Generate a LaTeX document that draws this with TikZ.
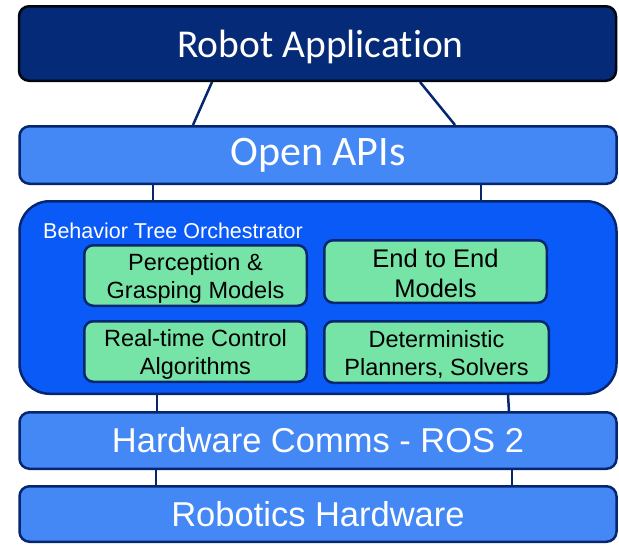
\documentclass[tikz,border=0pt]{standalone}
\usepackage{fontspec}
\setmainfont{Liberation Sans}
\newfontfamily\calib[Ligatures=NoCommon]{Carlito}
\definecolor{navy}{RGB}{6,38,112}
\definecolor{appfill}{RGB}{4,42,120}
\definecolor{layerfill}{RGB}{68,136,245}
\definecolor{btfill}{RGB}{10,90,248}
\definecolor{greenfill}{RGB}{118,228,166}
\newcommand{\lowr}[2]{\raisebox{-#1}[\height][\depth]{#2}}
\begin{document}
\begin{tikzpicture}[x=1pt,y=-1pt,
  layer/.style={draw=navy, line width=2.5pt, fill=layerfill, rounded corners=10pt,
    inner sep=0pt, text=white, minimum width=597pt},
  gbox/.style={draw=navy, line width=2.5pt, fill=greenfill, rounded corners=9pt,
    inner sep=0pt, text=black, align=center},
  conn/.style={draw=navy, line width=2.5pt}]
\useasboundingbox (0,0) rectangle (619,544);
\node[layer, fill=appfill, draw=black!85!navy, minimum height=74.5pt,
  font=\calib\fontsize{39.5}{42}\selectfont] (ra) at (317.5,43.5) {\lowr{3pt}{\hspace*{6pt}Robot Application}};
\node[layer, minimum height=57.5pt, font=\calib\fontsize{42}{46}\selectfont] (oa) at (318,155)
  {Open APIs};
\node[layer, fill=btfill, rounded corners=30pt, minimum height=192.5pt] (bt) at (318,297.5) {};
\node[layer, minimum height=56.5pt, font=\fontsize{34.5}{38}\selectfont] (hw) at (318,440.5)
  {Hardware Comms - ROS 2};
\node[layer, minimum height=55.5pt, font=\fontsize{34.5}{38}\selectfont] (rh) at (318,514)
  {Robotics Hardware};
\node[anchor=base west, inner sep=0pt, text=white, font=\fontsize{21.5}{24}\selectfont] (btl) at (43,238)
  {Behavior Tree Orchestrator};
\node[gbox, minimum width=222.5pt, minimum height=60.5pt, font=\fontsize{23.5}{28}\selectfont] (g1) at (195.5,275.5)
  {\lowr{2.5pt}{Perception \&}\\ \lowr{2.5pt}{Grasping Models}};
\node[gbox, minimum width=222.5pt, minimum height=62.5pt, font=\fontsize{25.5}{30}\selectfont] (g2) at (435.5,271.5)
  {\lowr{1.5pt}{End to End}\\ \lowr{1.5pt}{Models}};
\node[gbox, minimum width=222.5pt, minimum height=60.5pt, font=\fontsize{23.5}{28}\selectfont] (g3) at (195.5,351.5)
  {\lowr{2.5pt}{Real-time Control}\\ \lowr{2.5pt}{Algorithms}};
\node[gbox, minimum width=224.5pt, minimum height=61.5pt, font=\fontsize{23.5}{28}\selectfont] (g4) at (436.5,352)
  {\lowr{2.5pt}{Deterministic}\\ \lowr{2.5pt}{Planners, Solvers}};
\draw[conn] (ra.south -| 212,0) -- (oa.north -| 193,0);
\draw[conn] (ra.south -| 420,0) -- (oa.north -| 455,0);
\draw[conn] (oa.south -| 153,0) -- (bt.north -| 153,0);
\draw[conn] (oa.south -| 481,0) -- (bt.north -| 481,0);
\draw[conn] (bt.south -| 508,0) -- (hw.north -| 509,0);
\draw[conn] (bt.south -| 157,0) -- (hw.north -| 157,0);
\draw[conn] (hw.south -| 156,0) -- (rh.north -| 156,0);
\draw[conn] (hw.south -| 512,0) -- (rh.north -| 512,0);
\end{tikzpicture}
\end{document}
